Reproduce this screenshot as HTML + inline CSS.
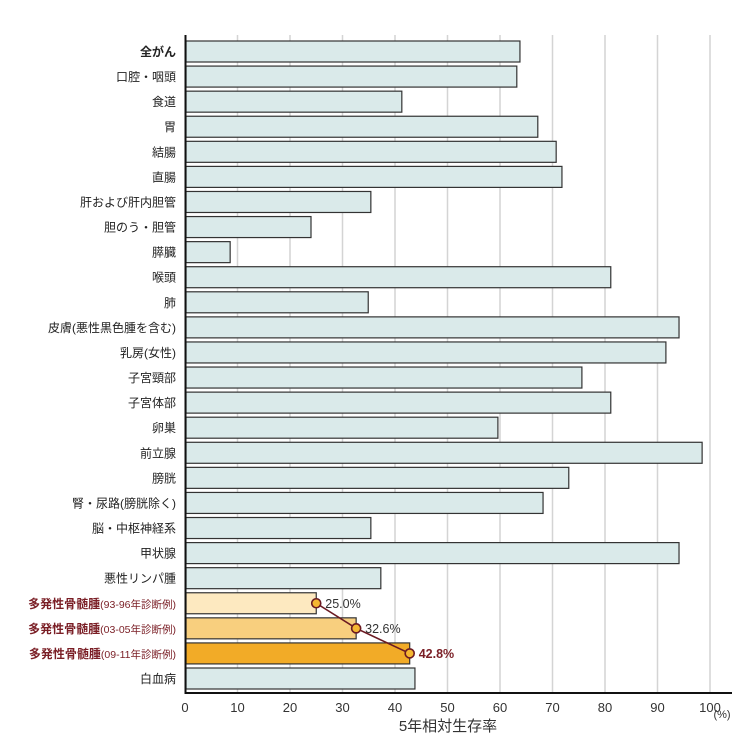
<!DOCTYPE html>
<html><head><meta charset="utf-8"><style>
html,body{margin:0;padding:0;background:#fff;}
svg text{font-family:"Liberation Sans","Noto Sans CJK JP",sans-serif;}
</style></head><body>
<svg id="chart" width="738" height="738" viewBox="0 0 738 738" xmlns="http://www.w3.org/2000/svg"></svg>
<script>
const categories=["全がん","口腔・咽頭","食道","胃","結腸","直腸","肝および肝内胆管","胆のう・胆管","膵臓","喉頭","肺","皮膚(悪性黒色腫を含む)","乳房(女性)","子宮頸部","子宮体部","卵巣","前立腺","膀胱","腎・尿路(膀胱除く)","脳・中枢神経系","甲状腺","悪性リンパ腫","多発性骨髄腫","多発性骨髄腫","多発性骨髄腫","白血病"];
const subLabels=["","","","","","","","","","","","","","","","","","","","","","","(93-96年診断例)","(03-05年診断例)","(09-11年診断例)",""];
const values=[63.8,63.2,41.3,67.2,70.7,71.8,35.4,24.0,8.6,81.1,34.9,94.1,91.6,75.6,81.1,59.6,98.5,73.1,68.2,35.4,94.1,37.3,25.0,32.6,42.8,43.8];
const myelomaLabels=["25.0%","32.6%","42.8%"];
const xTicks=[0,10,20,30,40,50,60,70,80,90,100];

const svg=document.getElementById('chart');
const NS="http://www.w3.org/2000/svg";
const x0=185,x1=710,yTop=35,yAxis=693;
const xs=v=>x0+(x1-x0)*v/100;
const rowH=25.08,firstC=51.5;
const yc=i=>firstC+i*rowH;
function mk(t,a,p){const e=document.createElementNS(NS,t);for(const k in a)e.setAttribute(k,a[k]);(p||svg).appendChild(e);return e;}

xTicks.forEach((t,i)=>{
  if(t>0){const g=mk('line',{x1:xs(t),x2:xs(t),y1:yTop,y2:yAxis,stroke:'#d4d4d4','stroke-width':1.5});
  
  }
  const tl=mk('text',{x:xs(t),y:712,'text-anchor':'middle','font-size':13,fill:'#333'});
  tl.textContent=t;
  
  
});
const fills=['#fde9c0','#f8cf7e','#f2ab27'];
values.forEach((v,i)=>{
  let fill='#daeaea';
  if(i>=22&&i<=24)fill=fills[i-22];
  const r=mk('rect',{x:x0+1,y:yc(i)-10.5,width:xs(v)-x0-1,height:21,fill:fill,stroke:'#333','stroke-width':1.2});
  
  
  const isM=i>=22&&i<=24;
  const lab=mk('text',{x:176,y:yc(i)+4.5,'text-anchor':'end','font-size':12,fill:isM?'#7a1e25':'#222','font-weight':(i===0||isM)?'bold':'normal'});
  lab.textContent=categories[i];
  if(subLabels[i]){const ts=mk('tspan',{'font-weight':'normal','font-size':10.5},lab);ts.textContent=subLabels[i];}
  
  
});
const ya=mk('line',{x1:x0+0.5,x2:x0+0.5,y1:yTop,y2:yAxis+1,stroke:'#111','stroke-width':2});


const xa=mk('line',{x1:x0-0.5,x2:x1+22,y1:yAxis,y2:yAxis,stroke:'#111','stroke-width':2});


const pts=[22,23,24].map(i=>[xs(values[i]),yc(i)]);
const pl=mk('polyline',{points:pts.map(p=>p.join(',')).join(' '),fill:'none',stroke:'#6b1a22','stroke-width':1.6});


pts.forEach((p,k)=>{
  const c=mk('circle',{cx:p[0],cy:p[1],r:4.5,fill:'#f5b731',stroke:'#6b1a22','stroke-width':1.6});
  
  
  const t=mk('text',{x:p[0]+9,y:p[1]+4.5,'font-size':12.5,fill:k===2?'#7a1e25':'#333','font-weight':k===2?'bold':'normal'});
  t.textContent=myelomaLabels[k];
  
  
});
const unit=mk('text',{x:722,y:718,'text-anchor':'middle','font-size':11,fill:'#333'});
unit.textContent='(%)';


const title=mk('text',{x:448,y:731,'text-anchor':'middle','font-size':15,fill:'#333'});
title.textContent='5年相対生存率';


</script>
</body></html>
